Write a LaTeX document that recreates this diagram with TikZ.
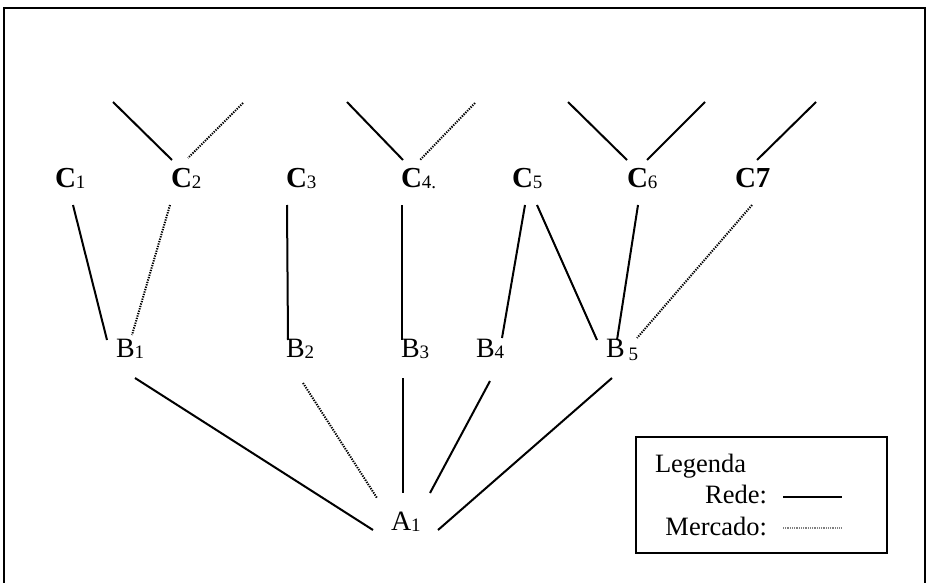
\documentclass[tikz,border=0pt]{standalone}
\usepackage{fontspec}
\setmainfont{Liberation Serif}
\newcommand\lsub[1]{\raisebox{-1pt}{\mdseries\fontsize{19}{19}\selectfont #1}}
\begin{document}
\begin{tikzpicture}[x=1pt,y=-1pt,
  lbl/.style={inner sep=0pt, outer sep=0pt, anchor=base west, font=\fontsize{28}{28}\selectfont},
  clbl/.style={lbl, font=\fontsize{29}{29}\selectfont\bfseries},
  legtxt/.style={inner sep=0pt, outer sep=0pt, font=\fontsize{26.5}{26.5}\selectfont},
  rede/.style={line width=2pt},
  merc/.style={line width=2pt, dash pattern=on 1.3pt off 1.2pt},
  legmerc/.style={line width=1.2pt, gray, dash pattern=on 0.9pt off 0.9pt}]
\useasboundingbox (0,0) rectangle (928,583);
\draw[line width=2pt] (4,590) -- (4,8) -- (925,8) -- (925,590);

% labels
\node[clbl] (C1) at (55,187) {C\lsub{1}};
\node[clbl] (C2) at (171,187) {C\lsub{2}};
\node[clbl] (C3) at (286,187) {C\lsub{3}};
\node[clbl] (C4) at (401,187) {C\lsub{4.}};
\node[clbl] (C5) at (512,187) {C\lsub{5}};
\node[clbl] (C6) at (627,187) {C\lsub{6}};
\node[clbl] (C7) at (735,187) {C7};
\node[lbl] (B1) at (116,357) {B\lsub{1}};
\node[lbl] (B2) at (286,357) {B\lsub{2}};
\node[lbl] (B3) at (401,357) {B\lsub{3}};
\node[lbl] (B4) at (476,357) {B\lsub{4}};
\node[lbl] (B5) at (606,357) {B\hspace{4pt}\raisebox{-3pt}{\fontsize{19}{19}\selectfont 5}};
\node[lbl] (A1) at (391,530) {A\lsub{1}};

% free top ends
\coordinate (t1) at (113,102);
\coordinate (t2) at (243,103);
\coordinate (t3) at (347,102);
\coordinate (t4) at (475,103);
\coordinate (t5) at (568,102);
\coordinate (t6) at (705,102);
\coordinate (t7) at (816,102);

% top branches
\draw[rede] (t1) -- ([shift={(1,-27)}]C2.base west);
\draw[merc] (t2) -- ([shift={(17,-29)}]C2.base west);
\draw[rede] (t3) -- ([shift={(2,-27)}]C4.base west);
\draw[merc] (t4) -- ([shift={(19,-27)}]C4.base west);
\draw[rede] (t5) -- ([shift={(0,-27)}]C6.base west);
\draw[rede] (t6) -- ([shift={(20,-27)}]C6.base west);
\draw[rede] (t7) -- ([shift={(22,-27)}]C7.base west);

% C to B
\draw[rede] ([shift={(18,18)}]C1.base west) -- ([shift={(-9,-17)}]B1.base west);
\draw[merc] ([shift={(-1,18)}]C2.base west) -- ([shift={(16,-22)}]B1.base west);
\draw[rede] ([shift={(1,18)}]C3.base west) -- ([shift={(2,-17)}]B2.base west);
\draw[rede] ([shift={(1,18)}]C4.base west) -- ([shift={(1,-17)}]B3.base west);
\draw[rede] ([shift={(13,18)}]C5.base west) -- ([shift={(26,-19)}]B4.base west);
\draw[rede] ([shift={(25,18)}]C5.base west) -- ([shift={(-9,-17)}]B5.base west);
\draw[rede] ([shift={(11,18)}]C6.base west) -- ([shift={(11,-17)}]B5.base west);
\draw[merc] ([shift={(17,18)}]C7.base west) -- ([shift={(31,-19)}]B5.base west);

% B to A
\draw[rede] ([shift={(19,21)}]B1.base west) -- ([shift={(-18,0)}]A1.base west);
\draw[merc] ([shift={(17,26)}]B2.base west) -- ([shift={(-14,-32)}]A1.base west);
\draw[rede] ([shift={(2,21)}]B3.base west) -- ([shift={(12,-37)}]A1.base west);
\draw[rede] ([shift={(14,24)}]B4.base west) -- ([shift={(39,-37)}]A1.base west);
\draw[rede] ([shift={(6,21)}]B5.base west) -- ([shift={(47,0)}]A1.base west);

% legend
\node[draw, line width=1.8pt, minimum width=251pt, minimum height=116pt, inner sep=0pt, anchor=north west] (leg) at (635,436) {};
\node[legtxt, anchor=base west] (legt) at (655,472) {Legenda};
\node[legtxt, anchor=base east] (lrede) at (767,503) {Rede:};
\node[legtxt, anchor=base east] (lmerc) at (767,535) {Mercado:};
\draw[rede] ([shift={(16,-6)}]lrede.base east) -- ([shift={(75,-6)}]lrede.base east);
\draw[legmerc] ([shift={(16,-7)}]lmerc.base east) -- ([shift={(75,-7)}]lmerc.base east);
\end{tikzpicture}
\end{document}
